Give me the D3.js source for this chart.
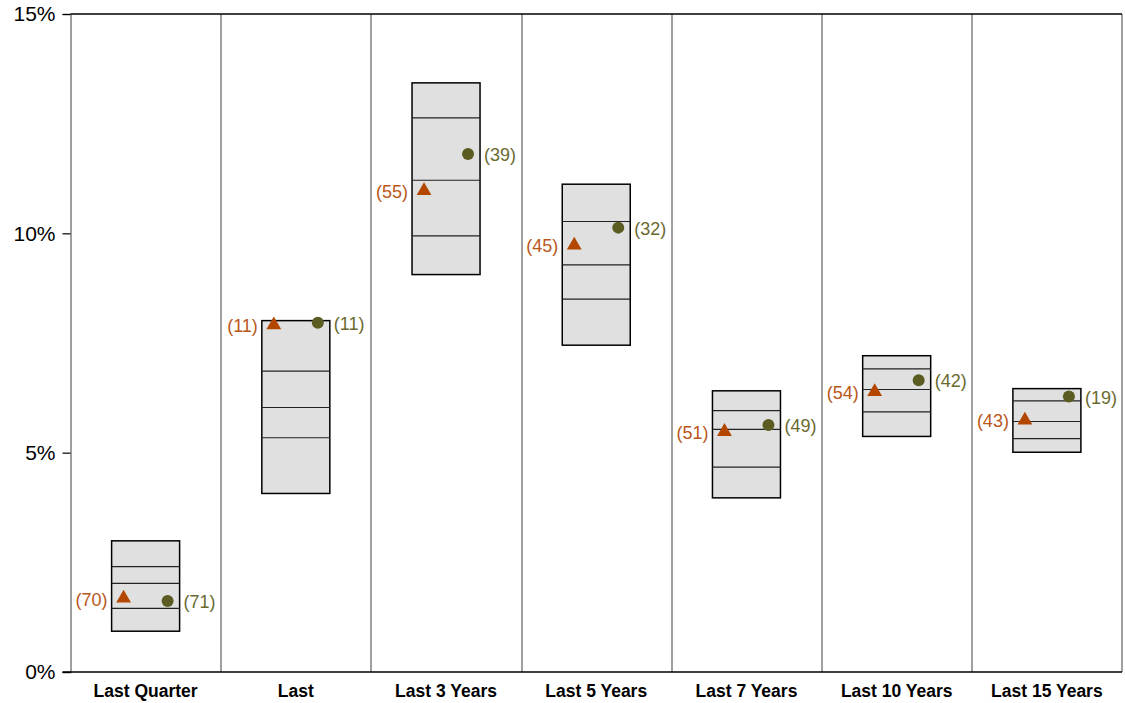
<!DOCTYPE html>
<html>
<head>
<meta charset="utf-8">
<script src="https://cdn.jsdelivr.net/npm/d3@7"></script>
<style>
  body { margin: 0; background: #fff; }
  text { font-family: "Liberation Sans", Arial, sans-serif; }
</style>
</head>
<body>
<svg width="1125" height="703"></svg>
<script>
// periods along the bottom
const periods = ['Last Quarter', 'Last', 'Last 3 Years', 'Last 5 Years', 'Last 7 Years', 'Last 10 Years', 'Last 15 Years'];

// universe percentiles (5th, 25th, median, 75th, 95th) in %
const p95 = [2.99, 8.01, 13.43, 11.12, 6.41, 7.21, 6.46];
const p75 = [2.40, 6.86, 12.63, 10.27, 5.96, 6.91, 6.18];
const p50 = [2.02, 6.03, 11.21, 9.28, 5.53, 6.44, 5.71];
const p25 = [1.45, 5.34, 9.94, 8.50, 4.67, 5.93, 5.32];
const p05 = [0.93, 4.07, 9.06, 7.45, 3.97, 5.37, 5.01];

// portfolio (triangle) and benchmark (circle) returns and their ranks
const triVals = [1.68, 7.91, 10.97, 9.73, 5.48, 6.39, 5.74];
const triRanks = [70, 11, 55, 45, 51, 54, 43];
const dotVals = [1.62, 7.96, 11.81, 10.13, 5.63, 6.65, 6.28];
const dotRanks = [71, 11, 39, 32, 49, 42, 19];

const yTicks = [0, 5, 10, 15];

const data = periods.map((p, i) => ({
  period: p, hi: p95[i], q3: p75[i], med: p50[i], q1: p25[i], lo: p05[i],
  tri: triVals[i], triRank: triRanks[i], dot: dotVals[i], dotRank: dotRanks[i]
}));

let svg = d3.select('svg');
let margin = {top: 14, right: 3, bottom: 31, left: 70.5},
  width = +svg.attr('width') - margin.left - margin.right,
  height = +svg.attr('height') - margin.top - margin.bottom;

let x = d3.scaleBand().domain(periods).range([0, width]).padding(0);
let y = d3.scaleLinear().domain([0, 15]).range([height, 0]);

let g = svg.append('g').attr('transform', `translate(${margin.left},${margin.top})`);

const boxW = 68, markOff = 22;
const triColor = '#b34700', dotColor = '#5a5c22';
const triText = '#b9571a', dotText = '#6a6a30';

// column dividers (grey)
g.selectAll('line.div')
  .data(periods.slice(1))
  .enter().append('line')
  .attr('class', 'div')
  .attr('x1', d => Math.round(x(d)) + 0.5).attr('x2', d => Math.round(x(d)) + 0.5)
  .attr('y1', 0).attr('y2', height)
  .attr('stroke', '#808080').attr('stroke-width', 1.5);

// right edge
g.append('line').attr('x1', width).attr('x2', width).attr('y1', 0).attr('y2', height)
  .attr('stroke', '#808080').attr('stroke-width', 1.5);

// y axis
let yAxis = g.append('g')
  .call(d3.axisLeft(y).tickValues(yTicks).tickFormat(d => d + '%').tickSize(8).tickPadding(7));
yAxis.select('.domain').attr('stroke', '#808080').attr('stroke-width', 1.5);
yAxis.selectAll('.tick line').attr('stroke', '#000').attr('stroke-width', 1.2);
yAxis.selectAll('.tick text').attr('font-size', 21).attr('fill', '#000');

// top and bottom rules
g.append('line').attr('x1', 0).attr('x2', width).attr('y1', 0).attr('y2', 0)
  .attr('stroke', '#000').attr('stroke-width', 1.5);
g.append('line').attr('x1', -8).attr('x2', width).attr('y1', height).attr('y2', height)
  .attr('stroke', '#000').attr('stroke-width', 1.5);

// x labels
g.selectAll('text.xl')
  .data(periods)
  .enter().append('text')
  .attr('class', 'xl')
  .attr('x', d => x(d) + x.bandwidth() / 2)
  .attr('y', height + 25)
  .attr('text-anchor', 'middle')
  .attr('font-size', 17.5).attr('font-weight', 'bold')
  .text(d => d);

// boxes
let cols = g.selectAll('g.col')
  .data(data)
  .enter().append('g')
  .attr('class', 'col')
  .attr('transform', d => `translate(${x(d.period) + x.bandwidth() / 2},0)`);

cols.append('rect')
  .attr('x', -boxW / 2)
  .attr('y', d => y(d.hi))
  .attr('width', boxW)
  .attr('height', d => y(d.lo) - y(d.hi))
  .attr('fill', '#e0e0e0')
  .attr('stroke', '#000').attr('stroke-width', 1.5);

['q3', 'med', 'q1'].forEach(k => {
  cols.append('line')
    .attr('x1', -boxW / 2).attr('x2', boxW / 2)
    .attr('y1', d => y(d[k])).attr('y2', d => y(d[k]))
    .attr('stroke', '#222').attr('stroke-width', 1.2);
});

// markers
cols.append('path')
  .attr('d', d3.symbol().type(d3.symbolTriangle).size(95))
  .attr('transform', d => `translate(${-markOff},${y(d.tri)})`)
  .attr('fill', triColor);

cols.append('circle')
  .attr('cx', markOff)
  .attr('cy', d => y(d.dot))
  .attr('r', 6)
  .attr('fill', dotColor);

// rank labels
cols.append('text')
  .attr('x', -boxW / 2 - 4)
  .attr('y', d => y(d.tri))
  .attr('dy', '0.4em')
  .attr('text-anchor', 'end')
  .attr('font-size', 18)
  .attr('fill', triText)
  .text(d => `(${d.triRank})`);

cols.append('text')
  .attr('x', boxW / 2 + 4)
  .attr('y', d => y(d.dot))
  .attr('dy', '0.4em')
  .attr('text-anchor', 'start')
  .attr('font-size', 18)
  .attr('fill', dotText)
  .text(d => `(${d.dotRank})`);
</script>
</body>
</html>
